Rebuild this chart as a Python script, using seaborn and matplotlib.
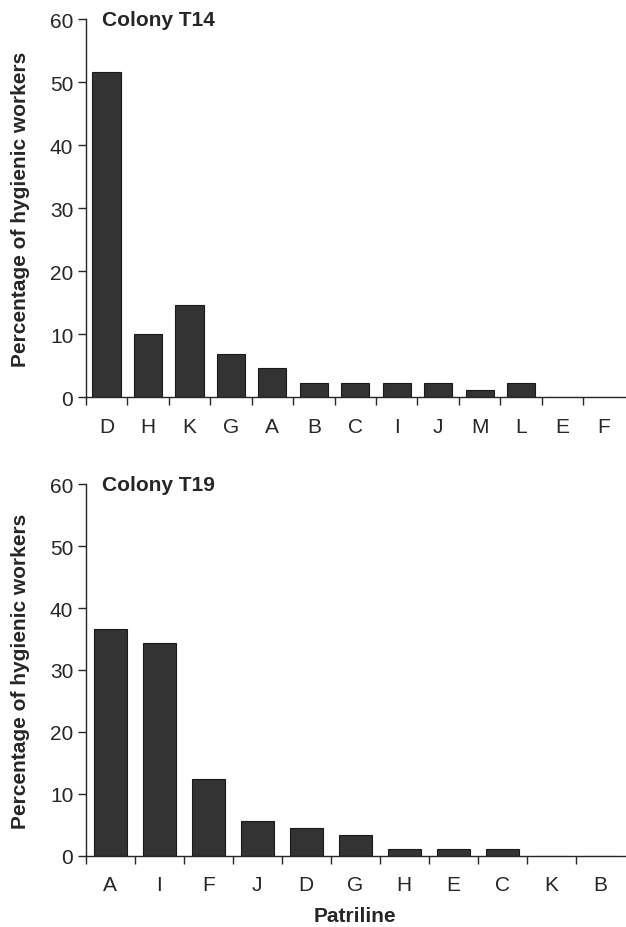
# Hygienic workers per patriline - two colonies, stacked bar charts
# ================================================================

import numpy as np
import pandas as pd
import matplotlib
matplotlib.use('Agg')
import matplotlib.pyplot as plt
import seaborn as sns

# ============================================================================
# DATA
# ============================================================================

t14_patrilines = ['D', 'H', 'K', 'G', 'A', 'B', 'C', 'I', 'J', 'M', 'L', 'E', 'F']
t14_values = [51.7, 10.1, 14.7, 6.8, 4.6, 2.2, 2.2, 2.2, 2.2, 1.1, 2.2, 0, 0]

t19_patrilines = ['A', 'I', 'F', 'J', 'D', 'G', 'H', 'E', 'C', 'K', 'B']
t19_values = [36.6, 34.4, 12.3, 5.6, 4.5, 3.3, 1.1, 1.1, 1.1, 0, 0]

y_ticks = [0, 10, 20, 30, 40, 50, 60]

# ============================================================================
# STYLE
# ============================================================================

sns.set_style("ticks")
plt.rcParams['font.family'] = ['Liberation Sans', 'DejaVu Sans']
plt.rcParams['axes.linewidth'] = 1.0
plt.rcParams['xtick.major.width'] = 1.0
plt.rcParams['ytick.major.width'] = 1.0

bar_color = '#333333'
tick_size = 15
label_size = 15

fig = plt.figure(figsize=(6.26, 9.28), dpi=100)
ax_top = fig.add_axes([0.137, 0.571, 0.861, 0.407])
ax_bot = fig.add_axes([0.137, 0.077, 0.861, 0.400])


def draw_panel(ax, names, values, title):
    df = pd.DataFrame({'Patriline': names, 'Percent': values})
    sns.barplot(data=df, x='Patriline', y='Percent', ax=ax, color=bar_color,
                saturation=1, width=0.68, edgecolor='#1a1a1a', linewidth=0.8)
    n = len(names)
    ax.set_xlim(-0.5, n - 0.5)
    ax.set_ylim(0, 60)
    ax.set_yticks(y_ticks)
    ax.tick_params(axis='y', labelsize=tick_size, length=6, direction='out', pad=3)
    # labels sit under bars, tick marks sit between the bars
    ax.tick_params(axis='x', which='major', length=0, labelsize=tick_size, pad=14)
    ax.set_xticks(np.arange(-0.5, n - 1), minor=True)
    ax.tick_params(axis='x', which='minor', length=6, width=1.0, direction='out')
    ax.set_ylabel('Percentage of hygienic workers', fontsize=label_size,
                  fontweight='bold', labelpad=14)
    ax.set_xlabel('')
    ax.text(0.03, 60, title, transform=ax.get_yaxis_transform(),
            fontsize=label_size, fontweight='bold', va='center', ha='left')
    sns.despine(ax=ax)


draw_panel(ax_top, t14_patrilines, t14_values, 'Colony T14')
draw_panel(ax_bot, t19_patrilines, t19_values, 'Colony T19')

ax_bot.set_xlabel('Patriline', fontsize=label_size, fontweight='bold', labelpad=9)

plt.savefig('out.png', dpi=100)
plt.close('all')
